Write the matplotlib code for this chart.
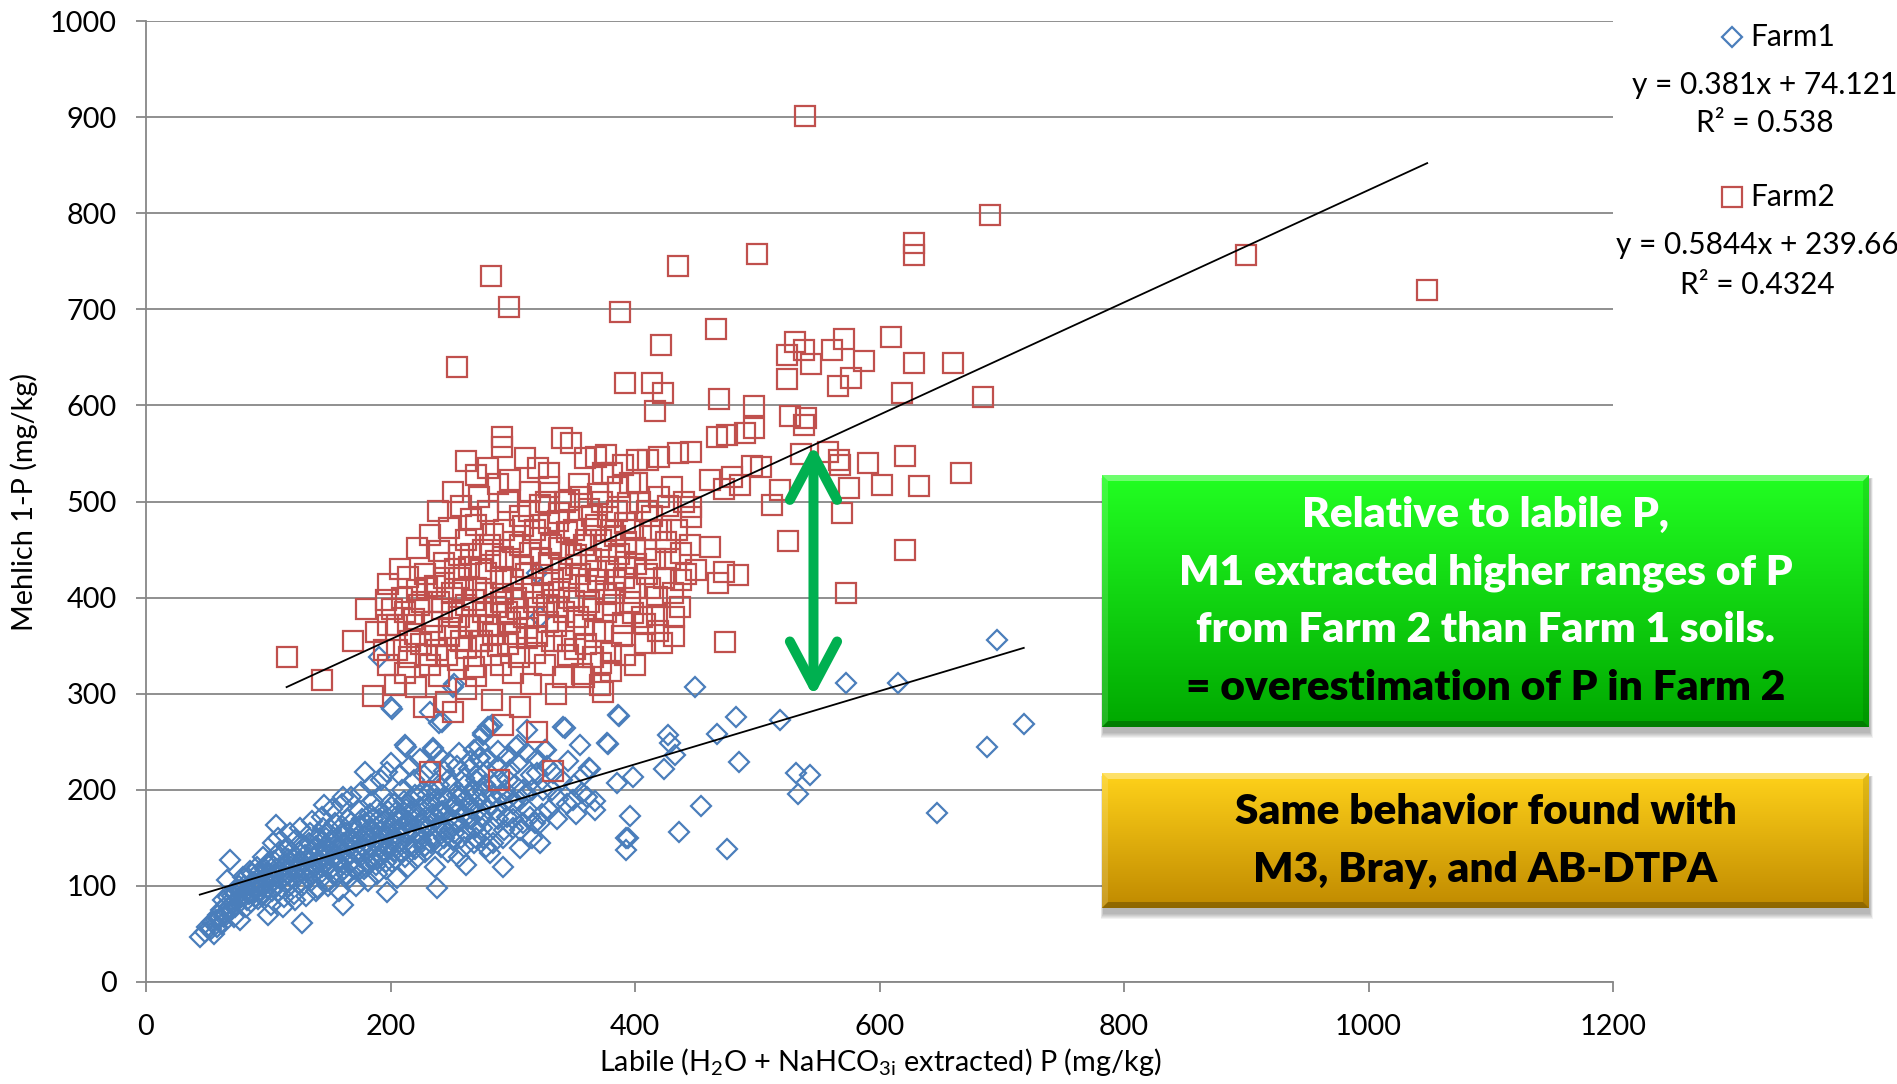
import numpy as np
import matplotlib
matplotlib.use("Agg")
import matplotlib.pyplot as plt
from matplotlib.patches import FancyArrowPatch, Polygon, Rectangle
from matplotlib.colors import to_rgb

plt.rcParams["font.family"] = ["Lato", "DejaVu Sans"]
plt.rcParams["mathtext.fontset"] = "custom"
plt.rcParams["mathtext.rm"] = "Lato"
plt.rcParams["mathtext.it"] = "Lato:italic"
plt.rcParams["mathtext.bf"] = "Lato:bold"

# ---------------------------------------------------------------- data
# Farm 1: labile P (x) vs Mehlich 1-P (y), mg/kg
farm1_core = [
    (44, 47), (48, 52), (50, 57), (53, 55), (54, 62), (56, 50), (58, 57), (60, 66), (62, 60), (63, 85),
    (65, 72), (66, 106), (68, 78), (69, 127), (70, 90), (72, 68), (74, 84), (75, 96), (77, 65), (78, 88),
    (79, 109), (80, 100), (82, 78), (84, 92), (85, 115), (86, 83), (88, 104), (90, 96), (91, 120), (92, 86),
    (94, 110), (95, 100), (96, 130), (98, 90), (100, 112), (101, 125), (102, 80), (104, 105), (106, 163), (106, 118),
    (108, 95), (110, 130), (111, 108), (113, 88), (114, 122), (115, 140), (117, 100), (118, 115), (120, 128), (121, 92),
    (122, 148), (124, 110), (125, 135), (126, 120), (128, 61), (128, 100), (130, 142), (131, 115), (132, 128), (134, 155),
    (135, 105), (136, 122), (138, 138), (139, 95), (140, 150), (141, 118), (143, 130), (144, 108), (145, 160), (146, 184),
    (146, 140), (148, 120), (149, 100), (150, 132), (152, 148), (153, 112), (155, 165), (156, 126), (157, 140), (158, 95),
    (160, 155), (161, 193), (161, 80), (162, 118), (163, 135), (165, 170), (166, 108), (167, 148), (168, 125), (170, 160),
    (171, 140), (172, 100), (174, 178), (175, 130), (176, 150), (178, 118), (179, 219), (179, 165), (180, 138), (182, 105),
    (183, 175), (184, 150), (185, 128), (186, 188), (188, 160), (189, 112), (190, 142), (191, 170), (192, 132), (194, 195),
    (195, 150), (196, 118), (197, 219), (197, 94), (198, 178), (199, 140), (200, 160), (201, 125), (203, 185), (204, 150),
    (205, 108), (206, 170), (208, 135), (209, 200), (210, 160), (212, 247), (212, 145), (213, 180), (214, 120), (215, 165),
    (217, 190), (218, 140), (219, 210), (220, 155), (221, 128), (222, 175), (224, 195), (225, 148), (226, 165), (227, 215),
    (228, 135), (230, 185), (231, 160), (232, 200), (233, 145), (235, 241), (235, 175), (236, 120), (237, 190), (238, 98),
    (238, 160), (240, 205), (241, 140), (242, 178), (244, 220), (245, 158), (246, 190), (247, 135), (248, 170), (250, 205),
    (251, 148), (252, 185), (254, 225), (255, 165), (256, 130), (258, 195), (259, 175), (260, 212), (262, 122), (262, 155),
    (264, 185), (265, 230), (266, 170), (268, 200), (268, 241), (270, 150), (271, 215), (273, 233), (273, 180), (275, 160),
    (276, 257), (276, 198), (278, 140), (279, 220), (281, 265), (281, 134), (282, 185), (284, 145), (285, 205), (287, 224),
    (288, 170), (290, 195), (292, 120), (293, 158), (295, 172), (296, 210), (298, 221), (300, 185), (303, 245), (304, 247),
    (306, 158), (306, 139), (308, 200), (312, 180), (315, 215), (318, 165), (320, 218), (322, 165), (322, 145), (325, 200),
    (326, 241), (327, 241), (330, 179), (333, 217), (337, 190),
]
farm1_dense = [
    (57, 64), (59, 70), (61, 75), (64, 68), (66, 80), (67, 88), (69, 74), (71, 82), (73, 92), (73, 78),
    (76, 86), (76, 100), (78, 95), (80, 88), (81, 108), (83, 96), (83, 85), (85, 102), (87, 93), (87, 112),
    (89, 100), (89, 88), (91, 106), (93, 96), (93, 115), (95, 90), (97, 105), (97, 118), (99, 98), (100, 122),
    (102, 108), (103, 95), (105, 112), (105, 126), (107, 102), (109, 116), (109, 135), (111, 98), (112, 120), (114, 110),
    (116, 128), (116, 104), (119, 120), (119, 135), (120, 108), (123, 118), (123, 130), (125, 102), (127, 126), (127, 142),
    (129, 112), (130, 132), (132, 120), (133, 145), (135, 115), (137, 130), (137, 112), (139, 142), (140, 124), (142, 135),
    (142, 150), (144, 120), (146, 128), (147, 150), (149, 138), (151, 118), (151, 158), (153, 130), (154, 142), (156, 150),
    (158, 125), (159, 138), (160, 162), (162, 145), (164, 130), (164, 155), (166, 140), (168, 165), (169, 148), (170, 118),
    (172, 150), (173, 135), (174, 162), (176, 142), (177, 170), (179, 152), (180, 125), (181, 145), (183, 160), (185, 140),
    (186, 170), (188, 150), (189, 180), (190, 128), (192, 158), (193, 145), (195, 168), (196, 135), (198, 155), (199, 185),
    (200, 148), (202, 165), (203, 135), (205, 178), (206, 158), (208, 146), (209, 170), (211, 188), (212, 155), (214, 168),
    (215, 140), (217, 178), (218, 158), (220, 195), (221, 170), (223, 150), (224, 182), (226, 160), (227, 140), (229, 172),
    (230, 195), (232, 162), (234, 185), (235, 150), (237, 170), (239, 200), (240, 178), (242, 160), (244, 192), (246, 175),
    (247, 210), (249, 158), (251, 182), (253, 168), (254, 195), (256, 178), (258, 150), (260, 188), (261, 205), (263, 170),
    (265, 195), (267, 180), (269, 160), (270, 210), (272, 190), (274, 172), (277, 205), (280, 180), (283, 195), (286, 178),
    (289, 210), (292, 185), (294, 200), (297, 190), (300, 170), (302, 205), (305, 188), (310, 195), (314, 172), (316, 200),
]
farm1_edges = [
    (100, 70), (104, 145), (108, 150), (112, 78), (118, 155), (122, 85), (126, 160), (131, 90), (136, 168), (140, 98),
    (144, 172), (148, 105), (152, 180), (156, 110), (160, 185), (164, 112), (168, 192), (172, 118), (176, 198), (180, 120),
    (184, 205), (188, 122), (192, 210), (196, 125), (200, 228), (204, 128), (208, 215), (212, 130), (216, 225), (220, 138),
    (224, 232), (228, 142), (232, 222), (236, 148), (240, 235), (244, 150), (248, 228), (252, 155), (256, 238), (260, 140),
    (264, 222), (268, 145), (272, 245), (276, 150), (280, 232), (284, 160), (288, 240), (292, 150), (296, 235), (300, 160),
    (304, 228), (308, 165), (312, 238), (316, 150), (320, 232), (324, 175), (328, 225), (332, 200), (336, 170), (340, 210),
    (344, 185), (345, 230), (350, 205), (352, 175), (358, 215),
]
farm1_spread = [
    (341, 265), (343, 264), (349, 189), (355, 247), (357, 197), (361, 193), (362, 223), (363, 222), (367, 188), (367, 179),
    (377, 249), (378, 248), (385, 207), (386, 278), (387, 277), (393, 150), (393, 137), (394, 150), (396, 173), (398, 213),
    (424, 222), (427, 257), (429, 249), (433, 236), (436, 156), (449, 307), (454, 183), (467, 258), (475, 138), (483, 276),
    (485, 229), (519, 273), (532, 218), (533, 196), (543, 215), (573, 311), (615, 311), (647, 176), (688, 245), (696, 356),
    (718, 268), (201, 284), (232, 281), (240, 269), (242, 271), (251, 307), (272, 233), (276, 259), (280, 265), (283, 267),
    (312, 262), (191, 338), (320, 426), (322, 380), (213, 245), (235, 243), (252, 310), (200, 286),
]

# Farm 2
farm2_core = [
    (186, 298), (204, 309), (221, 307), (245, 291), (251, 281), (227, 286), (283, 293), (292, 267), (306, 286), (320, 260),
    (341, 317), (358, 317), (374, 302), (371, 309), (357, 320), (380, 342), (366, 338), (262, 305), (270, 318), (335, 300),
    (300, 322), (315, 310), (240, 318), (212, 322),
    (169, 355), (188, 364), (180, 388), (198, 330), (205, 345), (215, 338), (225, 352), (232, 330), (238, 345), (248, 360),
    (255, 335), (262, 348), (268, 328), (275, 355), (282, 340), (290, 330), (296, 352), (305, 338), (312, 358), (318, 342),
    (326, 330), (332, 355), (345, 340), (351, 347), (360, 352), (372, 332), (380, 324), (392, 340), (400, 330), (408, 353),
    (422, 353), (432, 360), (474, 354),
    (198, 372), (205, 371), (212, 385), (220, 362), (226, 395), (234, 375), (242, 388), (248, 368), (256, 380), (262, 392),
    (270, 370), (276, 385), (284, 362), (290, 395), (298, 375), (304, 388), (312, 368), (320, 380), (328, 392), (335, 370),
    (342, 385), (350, 396), (358, 372), (366, 388), (374, 365), (382, 392), (390, 374), (398, 384), (408, 373), (418, 382),
    (432, 380), (418, 401), (196, 397),
    (198, 414), (214, 421), (208, 430), (222, 408), (228, 425), (236, 412), (244, 436), (250, 405), (256, 420), (264, 432),
    (270, 410), (278, 426), (286, 438), (292, 404), (300, 418), (308, 432), (316, 410), (324, 424), (330, 436), (338, 406),
    (346, 420), (352, 434), (360, 412), (368, 428), (376, 404), (384, 418), (392, 432), (400, 410), (410, 425), (438, 418),
    (450, 429), (468, 415), (484, 424), (473, 427),
    (222, 452), (232, 465), (240, 448), (248, 472), (256, 444), (262, 460), (270, 476), (276, 450), (284, 466), (292, 442),
    (300, 458), (308, 474), (314, 446), (322, 462), (330, 478), (338, 452), (344, 468), (352, 444), (360, 460), (368, 476),
    (376, 448), (384, 464), (392, 478), (400, 452), (412, 470), (425, 458), (461, 453), (446, 484), (446, 494), (438, 446),
    (239, 490), (251, 510), (258, 495), (266, 482), (272, 505), (280, 490), (288, 518), (296, 500), (298, 522), (306, 485),
    (314, 510), (322, 496), (330, 515), (338, 488), (346, 502), (354, 518), (362, 492), (370, 508), (378, 484), (386, 515),
    (394, 498), (402, 519), (410, 490), (420, 505), (430, 515), (461, 522), (473, 513), (479, 525), (486, 517),
    (262, 542), (270, 528), (280, 535), (291, 557), (291, 567), (310, 545), (321, 535), (330, 530), (340, 566), (348, 561),
    (359, 545), (368, 546), (376, 548), (374, 530), (381, 530), (390, 538), (396, 519), (402, 543), (411, 543), (420, 546),
    (435, 550), (446, 552),
]
farm2_dense = [
    (195, 345), (201, 388), (209, 400), (216, 355), (219, 378), (223, 392), (229, 340), (230, 410), (236, 360), (240, 395),
    (244, 420), (246, 340), (250, 385), (253, 430), (258, 355), (259, 408), (265, 370), (266, 445), (268, 398), (272, 355),
    (274, 430), (278, 405), (280, 372), (281, 455), (286, 390), (288, 350), (290, 420), (293, 470), (295, 385), (298, 440),
    (302, 362), (303, 400), (306, 455), (309, 380), (311, 425), (313, 490), (317, 395), (318, 470), (320, 360), (323, 440),
    (325, 405), (327, 500), (329, 375), (331, 455), (333, 418), (336, 390), (337, 480), (340, 430), (342, 355), (343, 500),
    (346, 400), (348, 445), (350, 470), (353, 380), (355, 425), (356, 505), (358, 455), (362, 395), (364, 440), (365, 485),
    (367, 365), (370, 418), (372, 460), (373, 500), (376, 385), (378, 432), (380, 470), (383, 405), (385, 490), (387, 445),
    (389, 360), (391, 420), (393, 458), (396, 395), (398, 470), (401, 435), (404, 500), (406, 380), (409, 450), (412, 410),
    (414, 485), (416, 440), (419, 365), (421, 470), (424, 420), (427, 495), (429, 440), (431, 405), (434, 470), (437, 390),
    (440, 500), (442, 425), (445, 455),
]
farm2_low = [(115, 338), (144, 314), (232, 219), (289, 210), (333, 220)]
farm2_spread = [
    (539, 901), (690, 798), (500, 758), (435, 745), (282, 735), (297, 702), (388, 697), (628, 769), (628, 757), (900, 756),
    (1048, 720), (466, 679), (609, 671), (254, 640), (421, 663), (531, 666), (524, 652), (538, 658), (544, 643), (524, 627),
    (561, 658), (571, 669), (587, 646), (577, 628), (566, 620), (628, 644), (660, 644), (618, 613), (685, 609), (392, 623),
    (414, 623), (423, 613), (416, 594), (469, 607), (497, 599), (497, 577), (467, 567), (475, 569), (490, 571), (527, 589),
    (540, 587), (538, 580), (536, 549), (558, 552), (567, 543), (568, 538), (591, 540), (621, 547), (667, 530), (632, 516),
    (602, 517), (575, 514), (569, 488), (621, 450), (525, 459), (573, 405), (503, 536), (496, 537), (512, 496), (519, 512),
]

# Linear trendlines (slope, intercept) and R^2
fit1_slope, fit1_icpt, fit1_r2 = 0.381, 74.121, 0.538
fit2_slope, fit2_icpt, fit2_r2 = 0.5844, 239.66, 0.4324

x_ticks = [0, 200, 400, 600, 800, 1000, 1200]
y_ticks = [0, 100, 200, 300, 400, 500, 600, 700, 800, 900, 1000]

# Green arrow: gap between the two trendlines around x = 546
gap_x = 546
gap_y = (297, 559)

green_lines = ["Relative to labile P,",
               "M1 extracted higher ranges of P",
               "from Farm 2 than Farm 1 soils.",
               "= overestimation of P in Farm 2"]
yellow_lines = ["Same behavior found with", "M3, Bray, and AB-DTPA"]

# ---------------------------------------------------------------- style
BLUE = "#4A7EBB"
RED = "#C0504D"
GRID = "#878787"
W, H = 1897, 1084
FS = 20.8
SQ_MS, DI_MS = 14, 10.4
MEW = 1.6

fig = plt.figure(figsize=(W / 100, H / 100), dpi=100)
ax = fig.add_axes([146 / W, 1 - 982 / H, (1613 - 146) / W, (982 - 21) / H])

f1 = np.array(farm1_core + farm1_dense + farm1_edges + farm1_spread, dtype=float)
f2 = np.array(farm2_core + farm2_dense + farm2_low + farm2_spread, dtype=float)

ax.plot(f1[:, 0], f1[:, 1], ls="none", marker="D", ms=DI_MS, mfc="none",
        mec=BLUE, mew=MEW, zorder=3)
ax.plot(f2[:, 0], f2[:, 1], ls="none", marker="s", ms=SQ_MS, mfc="none",
        mec=RED, mew=MEW, zorder=4)

for pts, m, b in ((f1, fit1_slope, fit1_icpt), (f2, fit2_slope, fit2_icpt)):
    xs = np.array([pts[:, 0].min(), pts[:, 0].max()])
    ax.plot(xs, m * xs + b, color="black", lw=1.3, zorder=5)

arrow = FancyArrowPatch((gap_x, gap_y[0]), (gap_x, gap_y[1]),
                        arrowstyle="<->,head_length=32,head_width=17",
                        mutation_scale=1, lw=7.2, color="#00B050",
                        shrinkA=0, shrinkB=0, capstyle="round",
                        joinstyle="round", zorder=6)
ax.add_patch(arrow)

ax.set_xlim(0, 1200)
ax.set_ylim(0, 1000)
ax.set_xticks(x_ticks)
ax.set_yticks(y_ticks)
ax.yaxis.grid(True, color=GRID, lw=1.3)
ax.set_axisbelow(True)
for s in ("top", "right"):
    ax.spines[s].set_visible(False)
for s in ("left", "bottom"):
    ax.spines[s].set_color(GRID)
    ax.spines[s].set_linewidth(1.3)
ax.tick_params(axis="both", direction="out", length=7, width=1.3,
               color=GRID, labelsize=FS, labelcolor="black")
ax.tick_params(axis="y", pad=14)
ax.tick_params(axis="x", pad=16)

fig.text(24 / W, 1 - 502 / H, "Mehlich 1-P (mg/kg)", rotation=90,
         ha="center", va="center", fontsize=FS)
fig.text(880 / W, 1 - 1062 / H,
         r"Labile (H$_\mathregular{2}$O + NaHCO$_\mathregular{3i}$ extracted) P (mg/kg)",
         ha="center", va="center", fontsize=FS)

# ---------------------------------------------------------------- overlay (pixel coordinates)
ov = fig.add_axes([0, 0, 1, 1], zorder=10)
ov.set_xlim(0, W)
ov.set_ylim(H, 0)
ov.axis("off")


def bevel_box(x0, y0, x1, y1, top, bottom, bev=6):
    # soft drop shadow
    for k in range(6):
        ov.add_patch(Rectangle((x0 + 1 - k * 0.5, y0 + 4 - k * 0.3),
                               (x1 - x0) + k, (y1 - y0) + 2 + k * 1.2,
                               facecolor="black", alpha=0.05, lw=0, zorder=1))
    t = np.linspace(0, 1, 256)[:, None, None]
    img = np.array(to_rgb(top))[None, None, :] * (1 - t) + np.array(to_rgb(bottom))[None, None, :] * t
    ov.imshow(img, extent=(x0, x1, y1, y0), aspect="auto", zorder=2,
              interpolation="bilinear")
    b = bev
    ov.add_patch(Polygon([(x0, y0), (x1, y0), (x1 - b, y0 + b), (x0 + b, y0 + b)],
                         closed=True, facecolor="white", alpha=0.35, lw=0, zorder=3))
    ov.add_patch(Polygon([(x0, y0), (x0 + b, y0 + b), (x0 + b, y1 - b), (x0, y1)],
                         closed=True, facecolor="white", alpha=0.15, lw=0, zorder=3))
    ov.add_patch(Polygon([(x1, y0), (x1 - b, y0 + b), (x1 - b, y1 - b), (x1, y1)],
                         closed=True, facecolor="black", alpha=0.10, lw=0, zorder=3))
    ov.add_patch(Polygon([(x0, y1), (x1, y1), (x1 - b, y1 - b), (x0 + b, y1 - b)],
                         closed=True, facecolor="black", alpha=0.25, lw=0, zorder=3))


bevel_box(1102, 475, 1869, 727, "#22ff22", "#00a800")
bevel_box(1102, 773, 1869, 908, "#ffd21a", "#c08a00")

cx = (1102 + 1869) / 2
BOX_FS = 30.5
for i, (line, yy) in enumerate(zip(green_lines, (515, 573, 630, 688))):
    ov.text(cx, yy, line, ha="center", va="center", fontsize=BOX_FS,
            fontweight="heavy", color="white" if i < 3 else "black", zorder=5)
for line, yy in zip(yellow_lines, (812, 870)):
    ov.text(cx, yy, line, ha="center", va="center", fontsize=BOX_FS,
            fontweight="heavy", color="black", zorder=5)

# legend with trendline equations
LFS = 21.5
ov.plot([1732], [37], marker="D", ms=DI_MS, mfc="none", mec=BLUE, mew=MEW)
ov.text(1750, 37, "Farm1", ha="left", va="center", fontsize=LFS)
ov.text(1765, 85, f"y = {fit1_slope}x + {fit1_icpt}", ha="center", va="center", fontsize=LFS)
ov.text(1765, 123, f"R\u00b2 = {fit1_r2}", ha="center", va="center", fontsize=LFS)
ov.plot([1732], [197], marker="s", ms=SQ_MS, mfc="none", mec=RED, mew=MEW)
ov.text(1750, 197, "Farm2", ha="left", va="center", fontsize=LFS)
ov.text(1757, 245, f"y = {fit2_slope}x + {fit2_icpt}", ha="center", va="center", fontsize=LFS)
ov.text(1757, 285, f"R\u00b2 = {fit2_r2}", ha="center", va="center", fontsize=LFS)

ov.set_xlim(0, W)
ov.set_ylim(H, 0)

fig.savefig("out.png", dpi=100)
